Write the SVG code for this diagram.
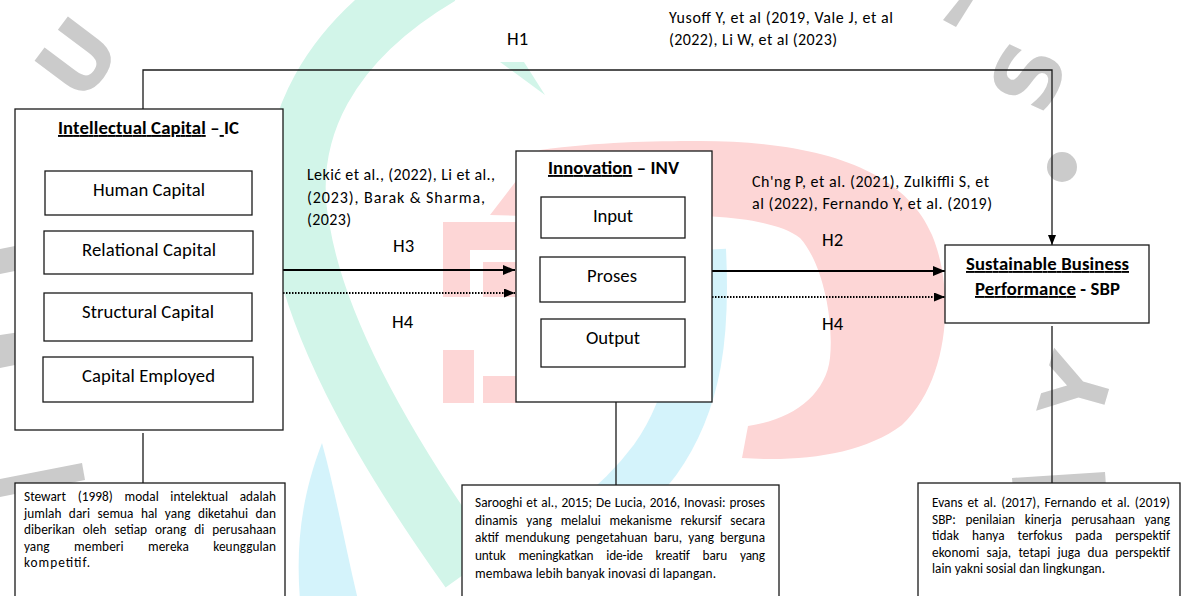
<svg xmlns="http://www.w3.org/2000/svg" width="1183" height="596" viewBox="0 0 1183 596">
  <defs>
    <style>
      text { font-family: Carlito, Calibri, Lato, "Liberation Sans", sans-serif; fill: #000; }
      .box { fill: #fff; stroke: #1a1a1a; stroke-width: 1.3; }
      .lbl { font-size: 18.7px; text-anchor: middle; }
      .ttl { font-size: 18.7px; font-weight: bold; text-anchor: middle; }
      .u { text-decoration: underline; }
      .cite { font-size: 16px; }
      .hyp { font-size: 18.7px; }
      .note { font-size: 13.3px; }
      .wire { fill: none; stroke: #1a1a1a; stroke-width: 1.3; }
      .solid { fill: none; stroke: #000; stroke-width: 2; }
      .dots { fill: none; stroke: #000; stroke-width: 2; stroke-dasharray: 1.5 1.5; }
      .wm-teal { fill: #d2f5e9; }
      .wm-blue { fill: #d4f3fb; }
      .wm-pink { fill: #fdd6d6; }
      .wm-grey { fill: #cbcbcb; }
      .wm-letter { font-family: "DejaVu Sans", sans-serif; font-weight: bold; font-size: 88px; fill: #cbcbcb; text-anchor: middle; }
    </style>
    <marker id="ah" markerUnits="userSpaceOnUse" markerWidth="12" markerHeight="10" viewBox="0 0 12 10" refX="12" refY="5" orient="auto">
      <path d="M0,0 L12,5 L0,10 Z" fill="#000"/>
    </marker>
    <marker id="ahs" markerUnits="userSpaceOnUse" markerWidth="11" markerHeight="9" viewBox="0 0 11 9" refX="11" refY="4.5" orient="auto">
      <path d="M0,0 L11,4.5 L0,9 Z" fill="#000"/>
    </marker>
    <marker id="ahv" markerUnits="userSpaceOnUse" markerWidth="10" markerHeight="8" viewBox="0 0 10 8" refX="10" refY="4" orient="auto">
      <path d="M0,0 L10,4 L0,8 Z" fill="#000"/>
    </marker>
  </defs>

  <rect x="0" y="0" width="1183" height="596" fill="#fff"/>

  <!-- faint background logo -->
  <g id="watermark">
    <path d="M 440 -25 C 330 40, 280 130, 300 230 C 315 320, 370 430, 470 570" fill="none" stroke="#d2f5e9" stroke-width="60"/>
    <polygon class="wm-teal" points="500,62 524,62 545,95"/>
    <path class="wm-blue" d="M 322 443 C 300 500, 296 550, 300 600 L 358 600 C 345 545, 335 490, 322 443 Z"/>
    <path d="M 700 250 C 704 330, 698 400, 655 460 C 635 487, 615 505, 590 525" fill="none" stroke="#d4f3fb" stroke-width="52"/>
    <path class="wm-pink" d="M 540 150 C 600 142, 650 141, 700 141 C 820 141, 905 170, 932 235 C 955 290, 950 380, 902 425 C 862 455, 800 462, 742 458 L 748 426 C 792 420, 826 395, 830 358 C 834 318, 822 262, 800 238 C 772 216, 700 214, 620 215 C 560 216, 520 216, 490 215 Z"/>
    <rect class="wm-pink" x="443" y="222" width="27" height="75"/>
    <rect class="wm-pink" x="443" y="222" width="73" height="28"/>
    <rect class="wm-pink" x="483" y="262" width="33" height="35"/>
    <rect class="wm-pink" x="443" y="350" width="31" height="53"/>
    <rect class="wm-pink" x="483" y="376" width="33" height="27"/>
    <text class="wm-letter" transform="translate(77,58) rotate(-53)" x="0" y="32">U</text>
    <text class="wm-letter" transform="translate(1028,76) rotate(-65)" x="0" y="32">S</text>
    <text class="wm-letter" transform="translate(1076,388) rotate(-74)" x="0" y="32">Y</text>
    <circle class="wm-grey" cx="1062" cy="167" r="15"/>
    <polygon class="wm-grey" points="943,20 956,27 973,0 959,0"/>
    <polygon class="wm-grey" points="0,479 82,463 85,480 0,497"/>
    <polygon class="wm-grey" points="0,249 20,245 20,270 0,274"/>
    <polygon class="wm-grey" points="0,335 20,332 20,364 0,368"/>
    <polygon class="wm-grey" points="1012,478 1105,472 1106,486 1013,490"/>
  </g>

  <!-- connectors -->
  <g id="connectors">
    <path class="wire" d="M143,109 V70 H1052 V245" marker-end="url(#ahv)"/>
    <path class="solid" d="M283,270 H515" marker-end="url(#ah)"/>
    <path class="dots" d="M283,293 H515" marker-end="url(#ahs)"/>
    <path class="solid" d="M712,271 H945" marker-end="url(#ah)"/>
    <path class="dots" d="M712,297 H945" marker-end="url(#ahs)"/>
    <path class="wire" d="M143,433 V483"/>
    <path class="wire" d="M616,402 V485"/>
    <path class="wire" d="M1052,326 V483"/>
  </g>

  <!-- hypothesis labels and references -->
  <g id="labels">
    <text class="hyp" x="507" y="45">H1</text>
    <text class="hyp" x="393" y="252">H3</text>
    <text class="hyp" x="392" y="328">H4</text>
    <text class="hyp" x="822" y="246">H2</text>
    <text class="hyp" x="822" y="330">H4</text>
    <text class="cite" x="669" y="23" textLength="224" lengthAdjust="spacing">Yusoff Y, et al (2019, Vale J, et al</text>
    <text class="cite" x="669" y="45" textLength="168" lengthAdjust="spacing">(2022), Li W, et al (2023)</text>
    <text class="cite" x="307" y="180" textLength="188" lengthAdjust="spacing">Lekić et al., (2022), Li et al.,</text>
    <text class="cite" x="307" y="202.5" textLength="178" lengthAdjust="spacing">(2023), Barak &amp; Sharma,</text>
    <text class="cite" x="307" y="225" textLength="44" lengthAdjust="spacing">(2023)</text>
    <text class="cite" x="752" y="187" textLength="237" lengthAdjust="spacing">Ch'ng P, et al. (2021), Zulkiffli S, et</text>
    <text class="cite" x="752" y="209" textLength="240" lengthAdjust="spacing">al (2022), Fernando Y, et al. (2019)</text>
  </g>

  <!-- Intellectual Capital -->
  <g id="node-ic">
    <rect class="box" x="15" y="109" width="268" height="321"/>
    <text class="ttl" x="148.5" y="134" textLength="181" lengthAdjust="spacing"><tspan class="u">Intellectual Capital</tspan> –<tspan class="u"> </tspan>IC</text>
    <rect class="box" x="45" y="171" width="207" height="44"/>
    <text class="lbl" x="149" y="196" textLength="112" lengthAdjust="spacing">Human Capital</text>
    <rect class="box" x="44" y="231" width="209" height="43"/>
    <text class="lbl" x="149" y="256" textLength="134" lengthAdjust="spacing">Relational Capital</text>
    <rect class="box" x="44" y="293" width="208" height="48"/>
    <text class="lbl" x="148" y="318" textLength="132" lengthAdjust="spacing">Structural Capital</text>
    <rect class="box" x="43" y="357" width="210" height="45"/>
    <text class="lbl" x="148.5" y="382" textLength="133" lengthAdjust="spacing">Capital Employed</text>
  </g>

  <!-- Innovation -->
  <g id="node-inv">
    <rect class="box" x="516" y="151" width="196" height="251"/>
    <text class="ttl" x="613.5" y="174" textLength="131" lengthAdjust="spacing"><tspan class="u">Innovation</tspan> – INV</text>
    <rect class="box" x="541" y="197" width="144" height="41"/>
    <text class="lbl" x="613" y="222" textLength="40" lengthAdjust="spacing">Input</text>
    <rect class="box" x="540" y="257" width="145" height="45"/>
    <text class="lbl" x="612" y="282" textLength="50" lengthAdjust="spacing">Proses</text>
    <rect class="box" x="541" y="319" width="144" height="48"/>
    <text class="lbl" x="613" y="344" textLength="54" lengthAdjust="spacing">Output</text>
  </g>

  <!-- Sustainable Business Performance -->
  <g id="node-sbp">
    <rect class="box" x="945" y="245" width="204" height="78"/>
    <text class="ttl" x="1047.5" y="270" textLength="163" lengthAdjust="spacing"><tspan class="u">Sustainable Business</tspan></text>
    <text class="ttl" x="1047.5" y="295" textLength="145" lengthAdjust="spacing"><tspan class="u">Performance</tspan> - SBP</text>
  </g>

  <!-- definition notes -->
  <g id="note-ic">
    <rect class="box" x="15" y="483" width="270" height="125"/>
    <text class="note" x="24" y="501" textLength="252" lengthAdjust="spacing" style="word-spacing:8.6px">Stewart (1998) modal intelektual adalah</text>
    <text class="note" x="24" y="517.5" textLength="252" lengthAdjust="spacing" style="word-spacing:4.4px">jumlah dari semua hal yang diketahui dan</text>
    <text class="note" x="24" y="534" textLength="252" lengthAdjust="spacing" style="word-spacing:4.9px">diberikan oleh setiap orang di perusahaan</text>
    <text class="note" x="24" y="550.5" textLength="252" lengthAdjust="spacing" style="word-spacing:21.4px">yang memberi mereka keunggulan</text>
    <text class="note" x="24" y="567" textLength="66" lengthAdjust="spacing">kompetitif.</text>
  </g>

  <g id="note-inv">
    <rect class="box" x="462" y="485" width="317" height="125"/>
    <text class="note" x="475" y="507" textLength="290" lengthAdjust="spacing" style="word-spacing:0.9px">Sarooghi et al., 2015; De Lucia, 2016, Inovasi: proses</text>
    <text class="note" x="475" y="524.7" textLength="290" lengthAdjust="spacing" style="word-spacing:5.7px">dinamis yang melalui mekanisme rekursif secara</text>
    <text class="note" x="475" y="542.3" textLength="290" lengthAdjust="spacing" style="word-spacing:3.1px">aktif mendukung pengetahuan baru, yang berguna</text>
    <text class="note" x="475" y="560" textLength="290" lengthAdjust="spacing" style="word-spacing:10px">untuk meningkatkan ide-ide kreatif baru yang</text>
    <text class="note" x="475" y="577.7" textLength="241" lengthAdjust="spacing">membawa lebih banyak inovasi di lapangan.</text>
  </g>

  <g id="note-sbp">
    <rect class="box" x="918" y="483" width="262" height="125"/>
    <text class="note" x="932" y="507" textLength="238" lengthAdjust="spacing" style="word-spacing:1.8px">Evans et al. (2017), Fernando et al. (2019)</text>
    <text class="note" x="932" y="523.5" textLength="238" lengthAdjust="spacing" style="word-spacing:6.6px">SBP: penilaian kinerja perusahaan yang</text>
    <text class="note" x="932" y="540" textLength="238" lengthAdjust="spacing" style="word-spacing:9.9px">tidak hanya terfokus pada perspektif</text>
    <text class="note" x="932" y="556.5" textLength="238" lengthAdjust="spacing" style="word-spacing:4.2px">ekonomi saja, tetapi juga dua perspektif</text>
    <text class="note" x="932" y="573" textLength="173" lengthAdjust="spacing">lain yakni sosial dan lingkungan.</text>
  </g>
</svg>
